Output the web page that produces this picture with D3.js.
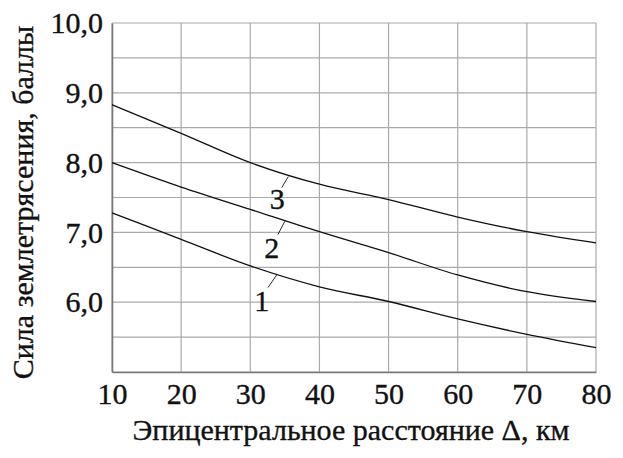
<!DOCTYPE html>
<html>
<head>
<meta charset="utf-8">
<script src="https://cdn.jsdelivr.net/npm/d3@7"></script>
<style>
  html, body { margin: 0; padding: 0; background: #fff; }
  text { font-family: "Liberation Serif", "DejaVu Serif", serif; fill: #111; stroke: #111; stroke-width: 0.35px; }
</style>
</head>
<body>
<div id="chart"></div>
<script>
// distance, km
const distances = [10, 20, 30, 40, 50, 60, 70, 80];
// intensity, balls
const curve1 = [7.28, 6.90, 6.52, 6.22, 6.01, 5.76, 5.54, 5.35];
const curve2 = [8.00, 7.65, 7.33, 7.01, 6.71, 6.39, 6.15, 6.01];
const curve3 = [8.83, 8.42, 8.00, 7.69, 7.47, 7.22, 7.01, 6.85];
const curveNames = ['1', '2', '3'];
const yTickValues = [6, 7, 8, 9, 10];
const yGridValues = [5, 5.5, 6, 6.5, 7, 7.5, 8, 8.5, 9, 9.5, 10];
const xTitle = 'Эпицентральное расстояние Δ, км';
const yTitle = 'Сила землетрясения, баллы';

const width = 623, height = 458;
const margin = {top: 23, right: 27, bottom: 86, left: 112};
const innerW = width - margin.left - margin.right;
const innerH = height - margin.top - margin.bottom;

const svg = d3.select('#chart')
  .append('svg')
    .attr('width', width)
    .attr('height', height);

const g = svg.append('g')
  .attr('transform', 'translate(' + margin.left + ',' + margin.top + ')');

const x = d3.scaleLinear().domain([10, 80]).range([0, innerW]);
const y = d3.scaleLinear().domain([5, 10]).range([innerH, 0]);

// grid
g.append('g')
  .selectAll('line')
  .data(distances)
  .enter().append('line')
    .attr('x1', d => x(d)).attr('x2', d => x(d))
    .attr('y1', 0).attr('y2', innerH)
    .attr('stroke', '#aaa')
    .attr('stroke-width', 1.2);

g.append('g')
  .selectAll('line')
  .data(yGridValues)
  .enter().append('line')
    .attr('x1', 0).attr('x2', innerW)
    .attr('y1', d => y(d)).attr('y2', d => y(d))
    .attr('stroke', '#aaa')
    .attr('stroke-width', 1.2);

// axes (frame left and bottom)
const xAxis = g.append('g')
  .attr('transform', 'translate(0,' + innerH + ')')
  .call(d3.axisBottom(x).tickValues(distances).tickSize(0).tickPadding(11));
xAxis.select('.domain').attr('stroke', '#777').attr('stroke-width', 1.6);
xAxis.selectAll('text')
  .style('font-size', '30px')
  .attr('fill', '#111')
  .attr('dy', '0.71em');

const yAxis = g.append('g')
  .call(d3.axisLeft(y).tickValues(yTickValues).tickSize(0).tickPadding(9)
    .tickFormat(d => d3.format('.1f')(d).replace('.', ',')));
yAxis.select('.domain').attr('stroke', '#777').attr('stroke-width', 1.6);
yAxis.selectAll('text')
  .style('font-size', '30px')
  .attr('fill', '#111');

// curves
const line = d3.line()
  .x((d, i) => x(distances[i]))
  .y(d => y(d))
  .curve(d3.curveMonotoneX);

[curve1, curve2, curve3].forEach(values => {
  g.append('path')
    .datum(values)
    .attr('d', line)
    .attr('fill', 'none')
    .attr('stroke', '#111')
    .attr('stroke-width', 1.3);
});

// curve labels with small leader lines (position in data units)
const labelAt = [
  {name: curveNames[0], lx: 31.65, ly: 5.88, x1: 32.56, y1: 6.21, x2: 33.82, y2: 6.39},
  {name: curveNames[1], lx: 33.1, ly: 6.64, x1: 34.0, y1: 6.97, x2: 35.0, y2: 7.16},
  {name: curveNames[2], lx: 33.9, ly: 7.33, x1: 34.54, y1: 7.64, x2: 35.5, y2: 7.80}
];
labelAt.forEach(l => {
  g.append('line')
    .attr('x1', x(l.x1)).attr('y1', y(l.y1))
    .attr('x2', x(l.x2)).attr('y2', y(l.y2))
    .attr('stroke', '#111')
    .attr('stroke-width', 0.9);
  g.append('text')
    .attr('x', x(l.lx))
    .attr('y', y(l.ly))
    .attr('text-anchor', 'middle')
    .style('font-size', '30px')
    .text(l.name);
});

// titles
svg.append('text')
  .attr('x', 351)
  .attr('y', 440)
  .attr('text-anchor', 'middle')
  .style('font-size', '30px')
  .text(xTitle);

svg.append('text')
  .attr('transform', 'translate(33,' + (margin.top + innerH / 2 + 5) + ') rotate(-90)')
  .attr('text-anchor', 'middle')
  .style('font-size', '30px')
  .text(yTitle);
</script>
</body>
</html>
